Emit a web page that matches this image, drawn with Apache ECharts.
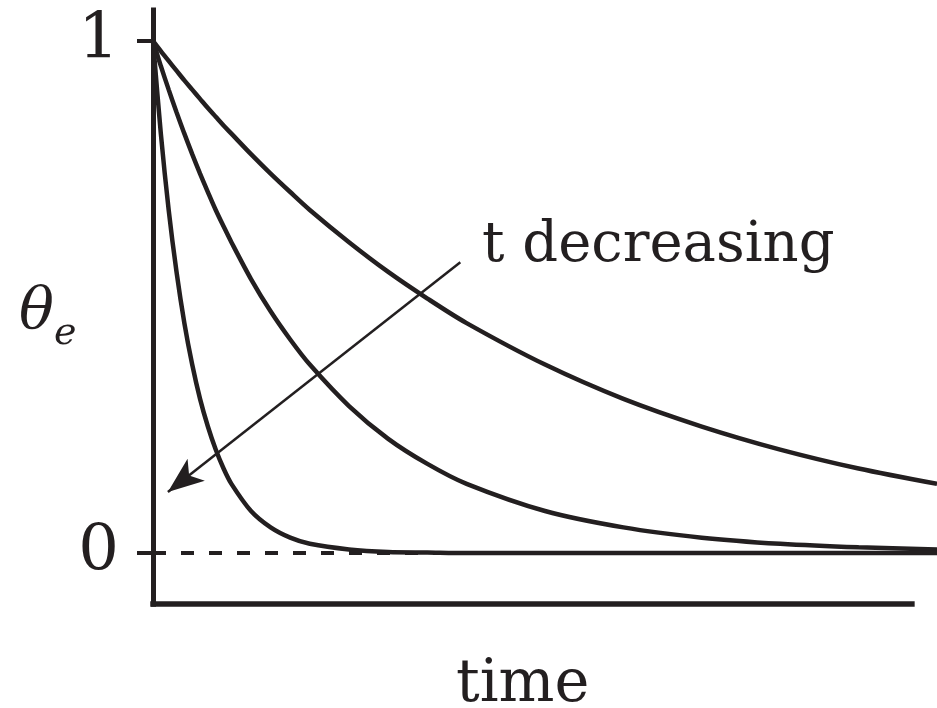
<!DOCTYPE html>
<html>
<head>
<meta charset="utf-8">
<script src="https://cdn.jsdelivr.net/npm/echarts@6/dist/echarts.min.js"></script>
<style>html,body{margin:0;padding:0;background:#fff;}#c{width:937px;height:708px;}</style>
</head>
<body>
<div id="c"></div>
<script>
// time samples (arbitrary time units)
const times = [0,0.1,0.2,0.3,0.4,0.5,0.6,0.7,0.8,0.9,1.0,1.25,1.5,1.75,2,2.5,3,3.5,4,5,6,7,8,9,10];
// slowest decay (largest tau)
const slowValues = [1.000,0.980,0.961,0.942,0.923,0.905,0.887,0.869,0.852,0.835,0.819,0.779,0.741,0.705,0.670,0.607,0.549,0.497,0.449,0.368,0.301,0.247,0.202,0.165,0.135];
// middle decay
const midValues = [1.000,0.951,0.905,0.861,0.819,0.779,0.741,0.705,0.670,0.638,0.607,0.535,0.472,0.417,0.368,0.287,0.223,0.174,0.135,0.082,0.050,0.030,0.018,0.011,0.007];
// fastest decay (smallest tau)
const fastValues = [1.000,0.819,0.670,0.549,0.449,0.368,0.301,0.247,0.202,0.165,0.135,0.082,0.050,0.030,0.018,0.007,0.002,0.001,0,0,0,0,0,0,0];
// dashed zero reference line
const zeroLineTimes = [0, 10];
const zeroLineValues = [0, 0];
// y tick labels
const yTickValues = [0, 1];
// drawn time axis extent (axis line stops short of the curves)
const timeAxisEnd = 9.68;
const valueAxisMin = -0.1;
// annotation arrow (data coordinates)
const arrowStart = [3.92, 0.568];
const arrowEnd = [0.19, 0.119];

const ink = '#231f20';
const chart = echarts.init(document.getElementById('c'));
const pairs = (xs, ys) => xs.map((x, i) => [x, ys[i]]);
const curve = (vals) => ({ type: 'line', data: pairs(times, vals), smooth: 0.3, showSymbol: false, z: 3,
  lineStyle: { width: 4.5, color: ink } });

chart.setOption({
  animation: false,
  backgroundColor: '#fff',
  grid: { left: 153, right: 0, top: 10, bottom: 103.8 },
  xAxis: {
    type: 'value', min: 0, max: 10,
    axisLine: { show: false }, axisTick: { show: false }, axisLabel: { show: false }, splitLine: { show: false }
  },
  yAxis: {
    type: 'value', min: valueAxisMin, max: 1.0605,
    axisLine: { show: true, onZero: false, lineStyle: { color: ink, width: 5, cap: 'square' } },
    axisTick: { show: true, customValues: yTickValues, length: 16, lineStyle: { color: ink, width: 4 } },
    axisLabel: { show: true, customValues: yTickValues, margin: 34, color: ink, fontFamily: 'DejaVu Serif', fontSize: 64 },
    splitLine: { show: false }
  },
  series: [
    { type: 'line', data: pairs(zeroLineTimes, zeroLineValues), showSymbol: false, z: 1,
      lineStyle: { color: ink, width: 4, type: [13, 15], dashOffset: 0 } },
    curve(slowValues),
    curve(midValues),
    curve(fastValues),
    { type: 'line', data: [], z: 4,
      markLine: {
        silent: true, animation: false,
        symbol: ['none', 'none'],
        label: { show: false },
        emphasis: { disabled: true },
        data: [
          [{ coord: [0, valueAxisMin], lineStyle: { color: ink, width: 5.5, type: 'solid', cap: 'square' } },
           { coord: [timeAxisEnd, valueAxisMin] }],
          [{ coord: arrowStart, symbol: 'none', lineStyle: { color: ink, width: 2.5, type: 'solid' } },
           { coord: arrowEnd, symbol: 'arrow', symbolSize: [21, 36] }]
        ]
      } }
  ],
  graphic: [
    { type: 'text', left: 482, top: 218, style: { text: 't decreasing', font: '56px "DejaVu Serif"', fill: ink } },
    { type: 'text', left: 456, top: 656, style: { text: 'time', font: '59px "DejaVu Serif"', fill: ink } },
    { type: 'text', left: 19, top: 284, style: { text: 'θ', font: 'italic 58px "DejaVu Serif"', fill: ink } },
    { type: 'text', left: 54, top: 315, style: { text: 'e', font: 'italic 38px "DejaVu Serif"', fill: ink } }
  ]
});
</script>
</body>
</html>
